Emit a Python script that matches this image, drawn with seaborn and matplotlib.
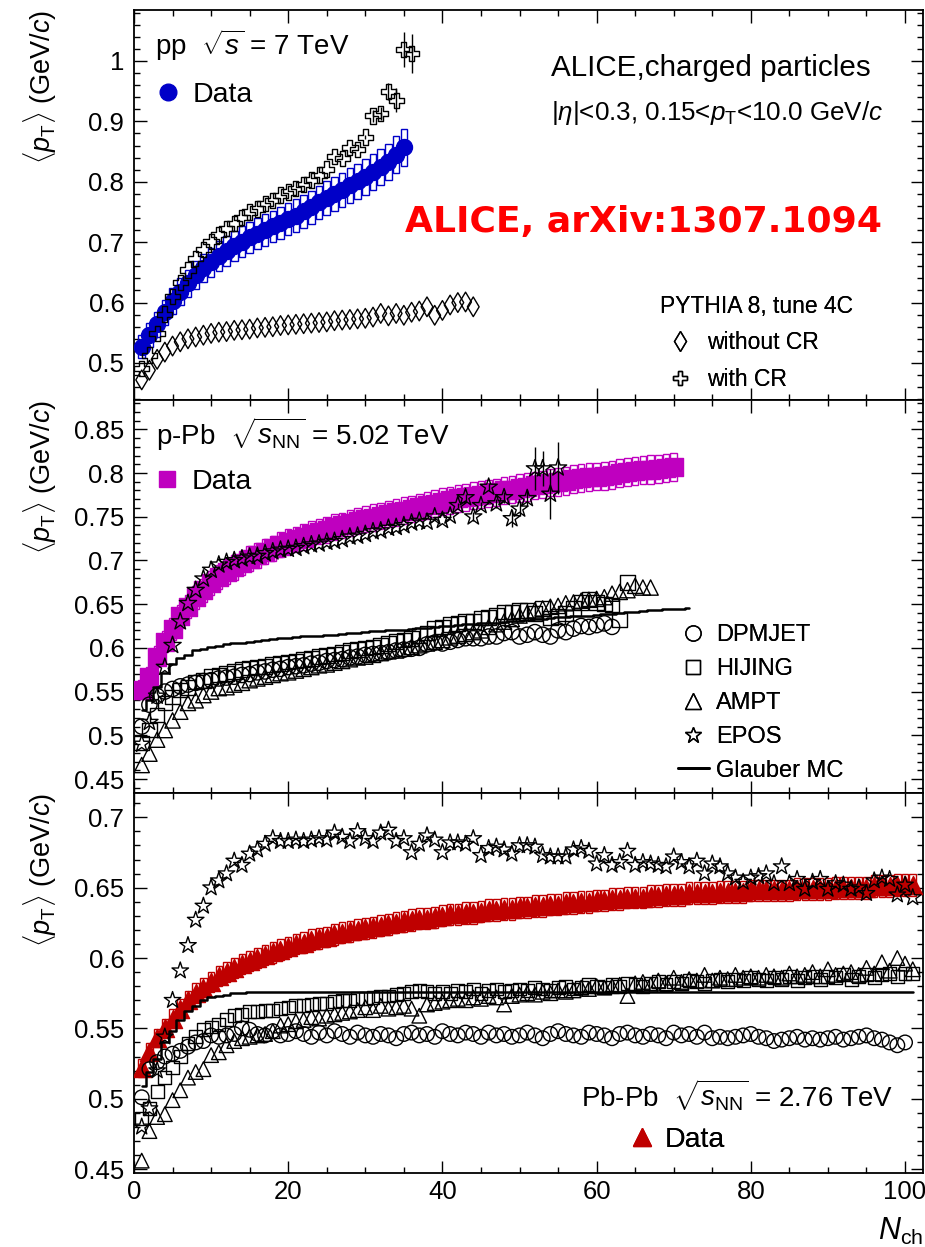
import numpy as np
import matplotlib
matplotlib.use("Agg")
import matplotlib.pyplot as plt
import matplotlib.lines as mlines
from matplotlib.ticker import MultipleLocator, FuncFormatter
import seaborn as sns

sns.set_theme(style="ticks", rc={"text.color": "black", "axes.labelcolor": "black",
                                 "xtick.color": "black", "ytick.color": "black",
                                 "axes.edgecolor": "black"})
plt.rcParams['font.family'] = ['Liberation Sans', 'DejaVu Sans']
plt.rcParams['mathtext.fontset'] = 'custom'
plt.rcParams['mathtext.rm'] = 'Liberation Sans'
plt.rcParams['mathtext.it'] = 'Liberation Sans:italic'
plt.rcParams['mathtext.bf'] = 'Liberation Sans:bold'

# ---------------- data: pp 7 TeV ----------------
pp_data = [0.527, 0.546, 0.564, 0.584, 0.602, 0.618, 0.632, 0.645, 0.657, 0.667,
           0.677, 0.686, 0.694, 0.701, 0.708, 0.714, 0.720, 0.726, 0.732, 0.738,
           0.744, 0.751, 0.758, 0.766, 0.773, 0.780, 0.787, 0.794, 0.801, 0.808,
           0.816, 0.824, 0.833, 0.845, 0.857]
pp_sys_rel = 0.036
pp_withcr = [0.491, 0.513, 0.549, 0.581, 0.610, 0.633, 0.654, 0.673, 0.688, 0.701,
             0.712, 0.723, 0.731, 0.741, 0.750, 0.755, 0.764, 0.769, 0.778, 0.783,
             0.789, 0.795, 0.803, 0.811, 0.821, 0.842, 0.838, 0.857, 0.854, 0.874,
             0.909, 0.913, 0.949, 0.935, 1.019, 1.012]
pp_withcr_err = [0, 0, 0, 0, 0, 0, 0, 0, 0, 0, 0, 0, 0, 0, 0, 0, 0, 0, 0, 0,
                 0, 0, 0, 0, 0, 0, 0, 0, 0, 0.004, 0.010, 0.010, 0.014, 0.020, 0.029, 0.032]
pp_nocr = [0.472, 0.488, 0.506, 0.518, 0.528, 0.535, 0.540, 0.543, 0.546, 0.549,
           0.551, 0.552, 0.554, 0.555, 0.556, 0.558, 0.559, 0.560, 0.562, 0.563,
           0.564, 0.565, 0.566, 0.567, 0.568, 0.570, 0.571, 0.572, 0.573, 0.574,
           0.576, 0.582, 0.578, 0.582, 0.579, 0.584, 0.586, 0.593, 0.579, 0.587,
           0.596, 0.600, 0.601, 0.593]

# ---------------- data: p-Pb 5.02 TeV ----------------
ppb_data = [0.552, 0.567, 0.590, 0.607, 0.622, 0.636, 0.647, 0.658, 0.666, 0.674,
            0.681, 0.687, 0.692, 0.697, 0.702, 0.706, 0.710, 0.714, 0.718, 0.721,
            0.724, 0.727, 0.730, 0.733, 0.735, 0.738, 0.740, 0.743, 0.745, 0.747,
            0.749, 0.751, 0.753, 0.755, 0.757, 0.759, 0.761, 0.763, 0.765, 0.767,
            0.769, 0.771, 0.772, 0.774, 0.775, 0.777, 0.778, 0.780, 0.781, 0.783,
            0.784, 0.786, 0.787, 0.789, 0.790, 0.791, 0.793, 0.794, 0.795, 0.796,
            0.797, 0.798, 0.800, 0.801, 0.802, 0.803, 0.804, 0.805, 0.806, 0.807]
ppb_sys_rel = 0.02
ppb_epos = [0.490, 0.515, 0.545, 0.578, 0.603, 0.630, 0.651, 0.666, 0.679, 0.689,
            0.695, 0.698, 0.700, 0.702, 0.704, 0.705, 0.708, 0.710, 0.712, 0.713,
            0.714, 0.716, 0.718, 0.719, 0.721, 0.722, 0.724, 0.727, 0.728, 0.730,
            0.733, 0.734, 0.737, 0.738, 0.740, 0.743, 0.745, 0.744, 0.750, 0.746,
            0.751, 0.763, 0.772, 0.750, 0.763, 0.784, 0.765, 0.772, 0.748, 0.759,
            0.771, 0.805, 0.805, 0.776, 0.806]
ppb_epos_err = [0, 0, 0, 0, 0, 0, 0, 0, 0, 0, 0, 0, 0, 0, 0, 0, 0, 0, 0, 0,
                0, 0, 0, 0, 0, 0, 0, 0, 0, 0, 0, 0, 0, 0, 0, 0, 0, 0, 0, 0,
                0.003, 0.003, 0.004, 0.005, 0.004, 0.005, 0.005, 0.006, 0.010, 0.008,
                0.009, 0.025, 0.020, 0.029, 0.030]
ppb_dpmjet = [0.510, 0.535, 0.545, 0.550, 0.553, 0.556, 0.558, 0.560, 0.562, 0.563,
              0.565, 0.566, 0.567, 0.569, 0.570, 0.572, 0.573, 0.575, 0.576, 0.578,
              0.579, 0.580, 0.582, 0.583, 0.585, 0.586, 0.587, 0.589, 0.590, 0.592,
              0.593, 0.594, 0.595, 0.597, 0.598, 0.599, 0.600, 0.604, 0.606, 0.605,
              0.607, 0.609, 0.611, 0.611, 0.611, 0.613, 0.613, 0.617, 0.618, 0.613,
              0.615, 0.618, 0.615, 0.613, 0.620, 0.618, 0.622, 0.625, 0.624, 0.626,
              0.628, 0.624]
ppb_hijing = [0.491, 0.506, 0.523, 0.537, 0.544, 0.552, 0.555, 0.561, 0.563, 0.567,
              0.569, 0.571, 0.573, 0.575, 0.577, 0.578, 0.579, 0.581, 0.582, 0.584,
              0.585, 0.587, 0.588, 0.590, 0.591, 0.593, 0.595, 0.597, 0.598, 0.600,
              0.601, 0.603, 0.605, 0.607, 0.609, 0.611, 0.614, 0.617, 0.622, 0.624,
              0.627, 0.628, 0.630, 0.630, 0.634, 0.635, 0.637, 0.641, 0.641, 0.643,
              0.643, 0.639, 0.645, 0.634, 0.636, 0.639, 0.645, 0.652, 0.656, 0.652,
              0.650, 0.649, 0.632, 0.675]
ppb_ampt = [0.466, 0.479, 0.495, 0.506, 0.517, 0.527, 0.537, 0.540, 0.546, 0.550,
            0.554, 0.555, 0.558, 0.560, 0.563, 0.565, 0.567, 0.569, 0.571, 0.572,
            0.574, 0.576, 0.578, 0.580, 0.581, 0.583, 0.585, 0.587, 0.589, 0.590,
            0.592, 0.594, 0.596, 0.597, 0.599, 0.601, 0.603, 0.605, 0.607, 0.609,
            0.612, 0.614, 0.616, 0.618, 0.620, 0.624, 0.627, 0.630, 0.633, 0.637,
            0.640, 0.643, 0.645, 0.647, 0.648, 0.651, 0.652, 0.654, 0.655, 0.656,
            0.658, 0.662, 0.664, 0.666, 0.671, 0.669, 0.669]
ppb_glauber = [0.529, 0.540, 0.555, 0.571, 0.582, 0.588, 0.592, 0.597, 0.599, 0.601,
               0.602, 0.604, 0.605, 0.606, 0.607, 0.608, 0.609, 0.610, 0.611, 0.611,
               0.612, 0.613, 0.613, 0.614, 0.615, 0.615, 0.616, 0.617, 0.617, 0.618,
               0.619, 0.619, 0.620, 0.621, 0.621, 0.622, 0.623, 0.623, 0.624, 0.625,
               0.625, 0.626, 0.627, 0.627, 0.628, 0.629, 0.629, 0.630, 0.631, 0.631,
               0.632, 0.633, 0.633, 0.634, 0.635, 0.635, 0.636, 0.637, 0.637, 0.638,
               0.639, 0.639, 0.640, 0.641, 0.641, 0.642, 0.643, 0.643, 0.644, 0.645,
               0.645, 0.646]

# ---------------- data: Pb-Pb 2.76 TeV ----------------
pbpb_data = [0.522, 0.533, 0.543, 0.550, 0.557, 0.564, 0.570, 0.575, 0.579, 0.583,
             0.587, 0.590, 0.593, 0.596, 0.598, 0.600, 0.602, 0.604, 0.606, 0.608,
             0.610, 0.611, 0.613, 0.614, 0.615, 0.617, 0.618, 0.619, 0.620, 0.621,
             0.622, 0.623, 0.624, 0.625, 0.626, 0.627, 0.628, 0.628, 0.629, 0.630,
             0.631, 0.631, 0.632, 0.632, 0.633, 0.634, 0.634, 0.635, 0.635, 0.636,
             0.636, 0.637, 0.637, 0.638, 0.638, 0.639, 0.639, 0.640, 0.640, 0.641,
             0.641, 0.642, 0.642, 0.643, 0.643, 0.643, 0.644, 0.644, 0.645, 0.645,
             0.645, 0.646, 0.646, 0.646, 0.646, 0.647, 0.647, 0.647, 0.647, 0.648,
             0.648, 0.648, 0.648, 0.648, 0.648, 0.649, 0.649, 0.649, 0.649, 0.649,
             0.650, 0.650, 0.650, 0.650, 0.650, 0.651, 0.651, 0.651, 0.652, 0.652,
             0.652]
pbpb_sys_rel = 0.012
pbpb_epos = [0.480, 0.493, 0.520, 0.544, 0.570, 0.591, 0.609, 0.627, 0.637, 0.650,
             0.655, 0.660, 0.669, 0.666, 0.674, 0.677, 0.681, 0.685, 0.683, 0.683,
             0.684, 0.683, 0.684, 0.685, 0.684, 0.689, 0.686, 0.683, 0.690, 0.685,
             0.683, 0.689, 0.691, 0.683, 0.685, 0.675, 0.681, 0.687, 0.684, 0.675,
             0.682, 0.682, 0.681, 0.685, 0.673, 0.678, 0.679, 0.677, 0.674, 0.680,
             0.680, 0.679, 0.673, 0.672, 0.672, 0.672, 0.677, 0.678, 0.676, 0.667,
             0.673, 0.666, 0.668, 0.676, 0.666, 0.668, 0.667, 0.666, 0.665, 0.672,
             0.668, 0.665, 0.669, 0.660, 0.667, 0.665, 0.660, 0.657, 0.654, 0.657,
             0.658, 0.660, 0.653, 0.665, 0.653, 0.656, 0.649, 0.654, 0.656, 0.649,
             0.653, 0.652, 0.649, 0.650, 0.646, 0.655, 0.657, 0.656, 0.645, 0.652,
             0.643]
pbpb_dpmjet = [0.501, 0.521, 0.526, 0.530, 0.532, 0.534, 0.537, 0.540, 0.541, 0.545,
               0.544, 0.545, 0.546, 0.550, 0.549, 0.546, 0.545, 0.548, 0.545, 0.546,
               0.548, 0.546, 0.544, 0.547, 0.545, 0.548, 0.546, 0.544, 0.547, 0.545,
               0.544, 0.546, 0.545, 0.543, 0.546, 0.547, 0.545, 0.546, 0.544, 0.548,
               0.546, 0.545, 0.547, 0.546, 0.544, 0.547, 0.545, 0.546, 0.544, 0.545,
               0.547, 0.545, 0.543, 0.546, 0.548, 0.546, 0.545, 0.544, 0.547, 0.546,
               0.545, 0.543, 0.546, 0.547, 0.545, 0.544, 0.546, 0.545, 0.543, 0.547,
               0.545, 0.546, 0.544, 0.547, 0.543, 0.544, 0.543, 0.544, 0.545, 0.546,
               0.544, 0.543, 0.541, 0.542, 0.543, 0.544, 0.542, 0.543, 0.542, 0.543,
               0.544, 0.542, 0.543, 0.544, 0.545, 0.543, 0.542, 0.540, 0.538, 0.540]
pbpb_hijing = [0.486, 0.493, 0.505, 0.515, 0.522, 0.530, 0.539, 0.544, 0.549, 0.551,
               0.553, 0.556, 0.559, 0.560, 0.562, 0.562, 0.563, 0.563, 0.564, 0.565,
               0.566, 0.566, 0.567, 0.568, 0.568, 0.569, 0.570, 0.570, 0.571, 0.571,
               0.572, 0.573, 0.573, 0.574, 0.575, 0.576, 0.577, 0.576, 0.575, 0.576,
               0.575, 0.577, 0.576, 0.578, 0.575, 0.577, 0.578, 0.576, 0.577, 0.578,
               0.577, 0.579, 0.578, 0.577, 0.579, 0.580, 0.578, 0.579, 0.581, 0.580,
               0.579, 0.581, 0.580, 0.582, 0.581, 0.580, 0.582, 0.583, 0.581, 0.583,
               0.582, 0.584, 0.583, 0.582, 0.584, 0.585, 0.583, 0.585, 0.584, 0.586,
               0.585, 0.584, 0.586, 0.585, 0.587, 0.584, 0.586, 0.587, 0.585, 0.587,
               0.586, 0.588, 0.585, 0.587, 0.588, 0.586, 0.588, 0.589, 0.587, 0.589,
               0.589]
pbpb_ampt = [0.456, 0.477, 0.487, 0.489, 0.499, 0.506, 0.515, 0.519, 0.521, 0.531,
             0.533, 0.538, 0.541, 0.543, 0.544, 0.545, 0.546, 0.548, 0.552, 0.553,
             0.555, 0.556, 0.558, 0.557, 0.559, 0.560, 0.561, 0.562, 0.563, 0.565,
             0.563, 0.566, 0.564, 0.565, 0.566, 0.564, 0.559, 0.567, 0.568, 0.569,
             0.570, 0.571, 0.570, 0.572, 0.571, 0.573, 0.572, 0.567, 0.573, 0.574,
             0.575, 0.574, 0.576, 0.575, 0.577, 0.576, 0.577, 0.579, 0.578, 0.580,
             0.579, 0.580, 0.581, 0.573, 0.582, 0.583, 0.581, 0.584, 0.582, 0.586,
             0.583, 0.585, 0.584, 0.588, 0.584, 0.586, 0.585, 0.588, 0.586, 0.587,
             0.586, 0.588, 0.587, 0.586, 0.589, 0.587, 0.588, 0.590, 0.587, 0.592,
             0.588, 0.589, 0.590, 0.588, 0.593, 0.589, 0.597, 0.591, 0.600, 0.596,
             0.592]
pbpb_glauber_x = [1, 2, 3, 4, 5, 6, 7, 8, 9, 10, 11, 12, 13, 14, 15, 20, 30, 40, 50, 60, 70, 80, 90, 100, 101]
pbpb_glauber = [0.509, 0.519, 0.528, 0.540, 0.548, 0.556, 0.562, 0.566, 0.570, 0.572,
                0.573, 0.574, 0.575, 0.575, 0.576, 0.576, 0.576, 0.576, 0.576, 0.576,
                0.576, 0.576, 0.576, 0.576, 0.576]

BLUE = '#0000c8'
MAGENTA = '#bf00bf'
RED = '#bf0000'
XMAX = 102.33


def nch(vals):
    return np.arange(1, len(vals) + 1)


def points(ax, x, y, marker, ms, face, edge, lw=1.0, z=4):
    sns.scatterplot(x=list(x), y=list(y), ax=ax, marker=marker, s=ms ** 2,
                    facecolor=face, edgecolor=edge, linewidth=lw, zorder=z, legend=False)


def sysboxes(ax, y, rel, color, width=0.85):
    y = np.asarray(y)
    half = y * rel
    ax.bar(nch(y), 2 * half, bottom=y - half, width=width, fill=False,
           edgecolor=color, linewidth=1.0, zorder=2)


def glauber(ax, x, y):
    sns.lineplot(x=list(x), y=list(y), ax=ax, color='black', linewidth=1.8,
                 drawstyle='steps-mid', estimator=None, sort=True, legend=False, zorder=5)


fig = plt.figure(figsize=(9.25, 12.47), dpi=100)
L, W = 134 / 925, (923 - 134) / 925
ax1 = fig.add_axes([L, 1 - 400 / 1247, W, 390 / 1247])
ax2 = fig.add_axes([L, 1 - 793 / 1247, W, 393 / 1247])
ax3 = fig.add_axes([L, 1 - 1173 / 1247, W, 380 / 1247])

fmt = FuncFormatter(lambda v, p: f'{round(v, 3):g}')
for ax, (lo, hi), maj, mnr in [(ax1, (0.4387, 1.0844), 0.1, 0.02),
                               (ax2, (0.434, 0.8835), 0.05, 0.01),
                               (ax3, (0.4472, 0.7173), 0.05, 0.01)]:
    ax.set_xlim(0, XMAX)
    ax.set_ylim(lo, hi)
    ax.xaxis.set_major_locator(MultipleLocator(20))
    ax.xaxis.set_minor_locator(MultipleLocator(5))
    ax.yaxis.set_major_locator(MultipleLocator(maj))
    ax.yaxis.set_minor_locator(MultipleLocator(mnr))
    ax.yaxis.set_major_formatter(fmt)
    ax.tick_params(which='both', direction='in', top=True, right=True,
                   labelsize=18.5, width=1.0, pad=7)
    ax.tick_params(which='major', length=9)
    ax.tick_params(which='minor', length=4.5)
    for sp in ax.spines.values():
        sp.set_linewidth(1.3)
    ax.set_xlabel('')
    ax.set_ylabel('')
    ax.text(-0.119, 1.0, r'$\langle p_{\rm T}\rangle$ (GeV/$c$)', transform=ax.transAxes,
            rotation=90, ha='center', va='top', fontsize=19.5)

ax1.tick_params(labelbottom=False)
ax2.tick_params(labelbottom=False)
ax3.tick_params(axis='x', pad=5)

# ---------------- panel 1: pp ----------------
sysboxes(ax1, pp_data, pp_sys_rel, BLUE)
points(ax1, nch(pp_data), pp_data, 'o', 11.5, BLUE, BLUE, z=3)
ax1.errorbar(nch(pp_withcr), pp_withcr, yerr=pp_withcr_err, fmt='none', ecolor='black',
             elinewidth=1.0, zorder=3.5)
points(ax1, nch(pp_withcr), pp_withcr, 'P', 11, 'none', 'black')
points(ax1, nch(pp_nocr), pp_nocr, 'd', 10, 'none', 'black')

ax1.text(0.0266, 0.885, r'pp  $\sqrt{s}$ = 7 TeV', transform=ax1.transAxes, fontsize=20,
         va='baseline', ha='left')
h = mlines.Line2D([], [], ls='none', marker='o', ms=12, mfc=BLUE, mec=BLUE)
leg = ax1.legend([h], ['Data'], loc='center left', bbox_to_anchor=(0.0266, 0.782),
                 frameon=False, fontsize=20.5, handlelength=0.9, handletextpad=0.41,
                 borderpad=0, borderaxespad=0)
ax1.add_artist(leg)
ax1.text(0.5285, 0.831, 'ALICE,charged particles', transform=ax1.transAxes, fontsize=21.3,
         va='baseline', ha='left')
ax1.text(0.5285, 0.718, r'$|\eta|$<0.3, 0.15<$p_{\rm T}$<10.0 GeV/$c$', transform=ax1.transAxes,
         fontsize=18.7, va='baseline', ha='left')
ax1.text(0.3435, 0.431, 'ALICE, arXiv:1307.1094', transform=ax1.transAxes, fontsize=26,
         fontweight='bold', family='DejaVu Sans', color='#ff0000', va='baseline', ha='left')
hd = mlines.Line2D([], [], ls='none', marker='d', ms=10, mfc='none', mec='black', mew=1.0)
hc = mlines.Line2D([], [], ls='none', marker='P', ms=10, mfc='none', mec='black', mew=1.0)
leg = ax1.legend([hd, hc], ['without CR', 'with CR'], title='PYTHIA 8, tune 4C',
                 title_fontsize=16.5, fontsize=16.5, alignment='left', loc='upper left',
                 bbox_to_anchor=(0.6667, 0.27), frameon=False, handlelength=1.73,
                 handletextpad=0.34, labelspacing=0.6, borderpad=0, borderaxespad=0)
ax1.add_artist(leg)

# ---------------- panel 2: p-Pb ----------------
sysboxes(ax2, ppb_data, ppb_sys_rel, MAGENTA)
points(ax2, nch(ppb_data), ppb_data, 's', 12.5, MAGENTA, MAGENTA, z=3)
points(ax2, nch(ppb_dpmjet), ppb_dpmjet, 'o', 11, 'none', 'black')
points(ax2, nch(ppb_hijing), ppb_hijing, 's', 10.5, 'none', 'black')
points(ax2, nch(ppb_ampt), ppb_ampt, '^', 11, 'none', 'black')
ax2.errorbar(nch(ppb_epos), ppb_epos, yerr=ppb_epos_err, fmt='none', ecolor='black',
             elinewidth=1.0, zorder=3.5)
points(ax2, nch(ppb_epos), ppb_epos, '*', 13, 'none', 'black')
glauber(ax2, nch(ppb_glauber), ppb_glauber)

ax2.text(0.0279, 0.8855, r'p-Pb  $\sqrt{s_{\rm NN}}$ = 5.02 TeV', transform=ax2.transAxes,
         fontsize=20, va='baseline', ha='left')
h = mlines.Line2D([], [], ls='none', marker='s', ms=11.5, mfc=MAGENTA, mec=MAGENTA)
leg = ax2.legend([h], ['Data'], loc='center left', bbox_to_anchor=(0.0279, 0.791),
                 frameon=False, fontsize=20.5, handlelength=0.76, handletextpad=0.48,
                 borderpad=0, borderaxespad=0)
ax2.add_artist(leg)
hm = [mlines.Line2D([], [], ls='none', marker='o', ms=11, mfc='none', mec='black'),
      mlines.Line2D([], [], ls='none', marker='s', ms=10.5, mfc='none', mec='black'),
      mlines.Line2D([], [], ls='none', marker='^', ms=11, mfc='none', mec='black'),
      mlines.Line2D([], [], ls='none', marker='*', ms=12, mfc='none', mec='black'),
      mlines.Line2D([], [], color='black', lw=2.0)]
leg = ax2.legend(hm, ['DPMJET', 'HIJING', 'AMPT', 'EPOS', 'Glauber MC'], loc='center left',
                 bbox_to_anchor=(0.6895, 0.229), frameon=False, fontsize=17,
                 handlelength=1.31, handletextpad=0.3, labelspacing=0.5,
                 borderpad=0, borderaxespad=0)
ax2.add_artist(leg)

# ---------------- panel 3: Pb-Pb ----------------
sysboxes(ax3, pbpb_data, pbpb_sys_rel, RED)
points(ax3, nch(pbpb_data), pbpb_data, '^', 13, RED, RED, z=3)
points(ax3, nch(pbpb_dpmjet), pbpb_dpmjet, 'o', 10.5, 'none', 'black')
points(ax3, nch(pbpb_hijing), pbpb_hijing, 's', 9.3, 'none', 'black')
points(ax3, nch(pbpb_ampt), pbpb_ampt, '^', 10.5, 'none', 'black')
points(ax3, nch(pbpb_epos), pbpb_epos, '*', 12.5, 'none', 'black')
glauber(ax3, pbpb_glauber_x, pbpb_glauber)

ax3.text(0.5665, 0.1737, r'Pb-Pb  $\sqrt{s_{\rm NN}}$ = 2.76 TeV', transform=ax3.transAxes,
         fontsize=20, va='baseline', ha='left')
h = mlines.Line2D([], [], ls='none', marker='^', ms=13, mfc=RED, mec=RED)
leg = ax3.legend([h], ['Data'], loc='center left', bbox_to_anchor=(0.6287, 0.0868),
                 frameon=False, fontsize=20.5, handlelength=0.83, handletextpad=0.38,
                 borderpad=0, borderaxespad=0)
ax3.add_artist(leg)

fig.text(923 / 925, 1 - 1240 / 1247, r'$N_{\rm ch}$', fontsize=22, ha='right', va='baseline')

fig.savefig('out.png', dpi=100)
